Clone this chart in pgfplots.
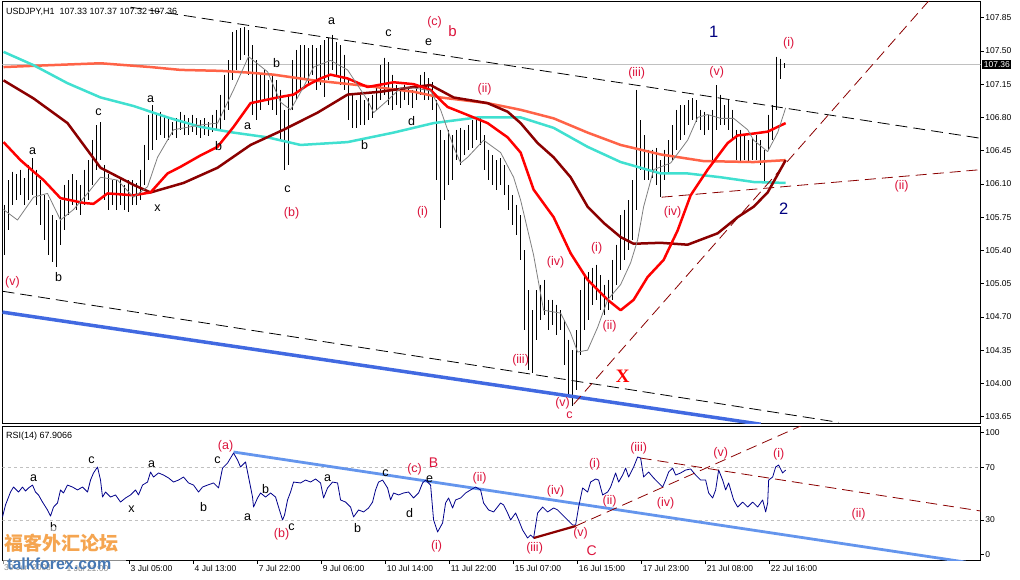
\documentclass[border=0pt]{standalone}
\usepackage{pgfplots}
\pgfplotsset{compat=1.18}
\usepackage{pgfplotstable}
\usepackage{fontspec}
\setmainfont{Liberation Sans}
\newfontfamily\serifx{Liberation Serif}
\newfontfamily\cjk{Noto Sans CJK SC}
\newcommand\fs[1]{\fontsize{#1}{#1}\selectfont}
\definecolor{wred}{RGB}{220,20,60}
\definecolor{navyw}{RGB}{0,0,128}
\definecolor{salmonma}{RGB}{255,99,71}
\definecolor{turq}{RGB}{64,224,208}
\definecolor{maroonma}{RGB}{139,0,0}
\definecolor{royal}{RGB}{65,105,225}
\definecolor{cornf}{RGB}{100,149,237}
\definecolor{rsiblue}{RGB}{0,0,139}
\definecolor{pricegray}{RGB}{192,192,192}
\definecolor{wmorange}{RGB}{245,165,80}
\definecolor{wmblue}{RGB}{70,120,180}

\pgfplotstableread{
x hi lo
4 105.88 105.35
8 106.14 105.61
12 106.23 105.88
16 106.20 105.93
20 106.25 105.98
24 106.16 105.88
28 106.30 105.93
32 106.37 105.98
36 106.25 105.88
40 106.14 105.67
44 105.98 105.51
48 105.93 105.35
52 105.77 105.28
56 105.72 105.23
60 105.93 105.46
64 106.09 105.61
68 106.14 105.77
72 106.20 105.88
76 106.14 105.83
80 106.09 105.77
84 106.25 105.88
88 106.35 105.93
92 106.56 106.09
96 106.72 106.25
100 106.75 106.35
104 106.30 105.93
108 106.20 105.83
112 106.14 105.88
116 106.14 105.83
120 106.16 105.88
124 106.09 105.83
128 106.14 105.80
132 106.14 105.88
136 106.11 105.88
140 106.25 105.93
144 106.51 106.09
148 106.83 106.35
152 106.93 106.46
156 106.83 106.56
160 106.86 106.61
164 106.83 106.58
168 106.79 106.56
172 106.75 106.61
176 106.79 106.58
180 106.86 106.67
184 106.83 106.61
188 106.79 106.61
192 106.83 106.65
196 106.79 106.61
200 106.77 106.58
204 106.79 106.61
208 106.75 106.60
212 106.83 106.65
216 106.88 106.67
220 107.04 106.67
224 107.25 106.77
228 107.40 106.88
232 107.70 107.19
236 107.72 107.30
240 107.74 107.40
244 107.75 107.46
248 107.72 107.25
252 107.56 106.83
256 107.40 106.77
260 107.25 106.88
264 107.30 106.98
268 107.19 106.93
272 107.25 106.88
276 107.19 106.83
280 107.09 106.56
284 106.88 106.25
288 107.04 106.30
292 107.40 106.88
296 107.51 106.98
300 107.56 107.09
304 107.56 107.19
308 107.53 107.14
312 107.56 107.25
316 107.53 107.09
320 107.56 107.14
324 107.61 107.01
328 107.64 107.19
332 107.67 107.30
336 107.59 107.25
340 107.56 107.14
344 107.46 107.09
348 107.19 106.77
352 107.04 106.69
356 106.98 106.69
360 107.04 106.72
364 106.98 106.72
368 107.00 106.77
372 107.04 106.79
376 107.14 106.88
380 107.35 106.98
384 107.43 107.04
388 107.38 106.93
392 107.25 106.88
396 107.14 106.93
400 107.11 106.90
404 107.14 106.98
408 107.11 106.93
412 107.09 106.90
416 107.14 106.98
420 107.25 107.04
424 107.28 106.98
428 107.21 106.98
432 107.17 106.88
436 106.98 106.14
440 106.67 105.64
444 106.56 105.93
448 106.67 106.09
452 106.61 106.14
456 106.67 106.35
460 106.69 106.30
464 106.67 106.40
468 106.72 106.46
472 106.77 106.48
476 106.80 106.56
480 106.79 106.51
484 106.61 106.25
488 106.46 106.14
492 106.40 106.09
496 106.35 106.04
500 106.37 106.09
504 106.30 105.98
508 106.09 105.83
512 105.98 105.67
516 105.88 105.56
520 105.77 105.30
524 105.40 104.56
528 104.98 104.14
532 104.77 104.11
536 104.98 104.46
540 105.04 104.67
544 105.09 104.72
548 104.88 104.56
552 104.88 104.61
556 104.83 104.51
560 104.77 104.56
564 104.67 104.19
568 104.46 103.88
572 104.35 103.76
576 104.56 103.93
580 104.98 104.30
584 105.14 104.56
588 105.17 104.67
592 105.22 104.83
596 105.25 104.88
600 105.14 104.77
604 105.04 104.72
608 105.09 104.77
612 105.30 104.88
616 105.46 105.04
620 105.77 105.19
624 105.83 105.30
628 105.93 105.40
632 106.14 105.51
636 107.09 105.83
640 106.77 106.25
644 106.61 106.14
648 106.46 106.14
652 106.46 106.16
656 106.48 106.09
660 106.35 105.96
664 106.46 106.14
668 106.56 106.20
672 106.72 106.35
676 106.88 106.46
680 106.93 106.56
684 106.93 106.61
688 106.98 106.72
692 107.00 106.77
696 106.98 106.75
700 106.88 106.67
704 106.86 106.61
708 106.83 106.67
712 106.88 106.35
716 107.14 106.67
720 107.04 106.72
724 106.93 106.72
728 106.98 106.67
732 106.88 106.56
736 106.67 106.35
740 106.67 106.33
744 106.61 106.35
748 106.56 106.32
752 106.58 106.35
756 106.61 106.35
760 106.56 106.30
764 106.46 106.11
768 106.83 106.46
772 106.93 106.56
776 107.44 106.88
780 107.42 107.20
784 107.37 107.32
}\bars

\tikzset{
  wl/.style={font=\fs{12.5}, inner sep=0pt},
  rl/.style={wl, text=wred},
}

\begin{document}
\begin{tikzpicture}[x=1pt,y=1pt]
\useasboundingbox (0,0) rectangle (1020,579);
\fill[white] (0,0) rectangle (1020,579);

% ---------------- main price panel ----------------
\begin{axis}[
  at={(2.5pt,155.7pt)}, anchor=south west,
  width=978.2pt, height=421.6pt, scale only axis,
  xmin=2, xmax=980, ymin=103.580, ymax=108.018,
  axis line style={line width=0.8pt},
  xtick=\empty,
  ytick={103.65,104.00,104.35,104.70,105.05,105.40,105.75,106.10,106.45,106.80,107.15,107.50,107.85},
  yticklabels={103.65,104.00,104.35,104.70,105.05,105.40,105.75,106.10,106.45,106.80,107.15,107.50,107.85},
  ytick pos=right, yticklabel pos=right,
  tick align=outside, major tick length=3pt,
  tick style={black, line width=0.6pt},
  yticklabel style={font=\fs{8.5}, anchor=west, inner sep=1.5pt},
  clip=true,
]
% current price line
\addplot[pricegray, line width=0.8pt] coordinates {(2,107.36) (980,107.36)};
% bars (high-low)
\addplot[only marks, mark=*, mark size=0pt, mark options={draw=none, fill=none},
  error bars/.cd, y dir=minus, y explicit, error mark=none,
  error bar style={black, line width=1.5pt}]
  table[x=x, y=hi, y error expr=\thisrow{hi}-\thisrow{lo}] {\bars};
% moving averages
\addplot[salmonma, line width=2.5pt, line join=round] coordinates {
(3,107.33)(50,107.35)(100,107.37)(150,107.33)(180,107.30)(220,107.29)(250,107.27)(273,107.25)(313,107.19)(367,107.13)(413,107.07)(440,107.01)(487,106.95)(520,106.88)(553,106.79)(587,106.64)(620,106.51)(660,106.41)(703,106.34)(753,106.33)(785,106.35)};
\addplot[turq, line width=2.5pt, line join=round] coordinates {
(3,107.49)(33,107.35)(67,107.16)(100,107.01)(133,106.92)(167,106.80)(200,106.70)(233,106.64)(267,106.59)(300,106.51)(347,106.54)(393,106.64)(433,106.74)(477,106.80)(520,106.80)(553,106.69)(587,106.49)(620,106.33)(660,106.21)(687,106.21)(720,106.17)(753,106.12)(785,106.11)};
\addplot[maroonma, line width=2.5pt, line join=round] coordinates {
(3,107.19)(33,107.00)(67,106.74)(100,106.27)(133,106.09)(150,106.01)(183,106.11)(217,106.27)(250,106.51)(283,106.67)(317,106.85)(347,107.04)(380,107.07)(413,107.12)(430,107.14)(453,107.01)(487,106.95)(507,106.86)(520,106.74)(537,106.53)(553,106.38)(570,106.17)(587,105.86)(603,105.69)(620,105.54)(633,105.47)(660,105.48)(687,105.46)(717,105.58)(737,105.75)(753,105.86)(767,106.01)(785,106.35)};
\addplot[red, line width=2.5pt, line join=round] coordinates {
(3,106.54)(20,106.35)(33,106.23)(43,106.14)(60,105.95)(83,105.90)(93,105.89)(107,106.00)(133,105.98)(150,106.01)(167,106.21)(180,106.28)(200,106.40)(217,106.49)(233,106.70)(250,106.95)(277,107.01)(293,107.04)(307,107.14)(320,107.21)(330,107.25)(347,107.21)(367,107.12)(393,107.17)(413,107.15)(430,107.09)(440,106.98)(447,106.91)(473,106.80)(487,106.74)(507,106.59)(520,106.43)(533,106.04)(553,105.75)(570,105.37)(587,105.09)(607,104.88)(620,104.77)(633,104.88)(647,105.12)(663,105.30)(677,105.61)(690,105.98)(707,106.25)(727,106.53)(737,106.61)(753,106.63)(767,106.65)(777,106.70)(785,106.74)};
\addplot[gray, line width=0.8pt, line join=round] coordinates {
(3,105.83)(17,105.72)(33,105.96)(47,106.00)(60,105.72)(73,105.83)(87,106.00)(100,106.17)(117,106.14)(133,105.96)(147,106.07)(157,106.38)(173,106.67)(200,106.72)(217,106.74)(233,107.09)(248,107.44)(267,107.28)(280,106.96)(290,106.88)(303,107.12)(313,107.33)(330,107.40)(347,107.30)(367,106.98)(373,106.85)(387,106.98)(400,107.11)(413,107.11)(430,107.08)(440,106.88)(453,106.49)(460,106.32)(467,106.38)(483,106.56)(500,106.43)(513,106.17)(520,105.93)(533,105.35)(543,104.77)(560,104.74)(570,104.53)(577,104.33)(587,104.35)(597,104.59)(607,104.88)(620,105.04)(630,105.27)(637,105.51)(643,105.86)(653,106.25)(670,106.32)(687,106.56)(697,106.80)(707,106.83)(720,106.79)(733,106.79)(747,106.67)(753,106.56)(767,106.44)(777,106.64)(785,106.90)};
% trend lines
\addplot[black, line width=0.8pt, dash pattern=on 12pt off 6pt] coordinates {(130,107.96) (980,106.58)};
\addplot[black, line width=0.8pt, dash pattern=on 12pt off 6pt] coordinates {(2,104.97) (838,103.59)};
\addplot[royal, line width=3.5pt] coordinates {(2,104.75) (760,103.57)};
\addplot[maroonma, line width=0.8pt, dash pattern=on 11pt off 6pt] coordinates {(573,103.78) (930,108.05)};
\addplot[maroonma, line width=0.8pt, dash pattern=on 11pt off 6pt] coordinates {(661,105.96) (980,106.25)};
% wave labels
\node[wl] at (axis cs:32,106.44) {a};
\node[wl] at (axis cs:58,105.12) {b};
\node[wl] at (axis cs:98,106.85) {c};
\node[wl] at (axis cs:157,105.84) {x};
\node[wl] at (axis cs:150,106.99) {a};
\node[wl] at (axis cs:218,106.50) {b};
\node[wl] at (axis cs:247,106.71) {a};
\node[wl] at (axis cs:276,107.37) {b};
\node[wl] at (axis cs:287,106.04) {c};
\node[wl] at (axis cs:331,107.81) {a};
\node[wl] at (axis cs:388,107.69) {c};
\node[wl] at (axis cs:428,107.59) {e};
\node[wl] at (axis cs:364,106.51) {b};
\node[wl] at (axis cs:411,106.76) {d};
\node[rl] at (axis cs:12,105.06) {(v)};
\node[rl] at (axis cs:291,105.79) {(b)};
\node[rl] at (axis cs:434,107.80) {(c)};
\node[rl, font=\fs{15}] at (axis cs:452,107.71) {b};
\node[rl] at (axis cs:484,107.10) {(ii)};
\node[rl] at (axis cs:422,105.80) {(i)};
\node[rl] at (axis cs:636,107.26) {(iii)};
\node[rl] at (axis cs:716,107.27) {(v)};
\node[rl] at (axis cs:788,107.58) {(i)};
\node[rl] at (axis cs:555,105.28) {(iv)};
\node[rl] at (axis cs:596,105.42) {(i)};
\node[rl] at (axis cs:609,104.60) {(ii)};
\node[rl] at (axis cs:520,104.24) {(iii)};
\node[rl] at (axis cs:562,103.79) {(v)};
\node[rl] at (axis cs:569,103.67) {c};
\node[rl] at (axis cs:672,105.80) {(iv)};
\node[rl] at (axis cs:901,106.08) {(ii)};
\node[inner sep=0pt, text=navyw, font=\fs{16.5}] at (axis cs:713,107.70) {1};
\node[inner sep=0pt, text=navyw, font=\fs{16.5}] at (axis cs:783,105.84) {2};
\node[inner sep=0pt, text=red, font=\serifx\bfseries\fs{19}] at (axis cs:622,104.07) {X};
\coordinate (pricebox) at (axis cs:980,107.36);
\end{axis}

% ---------------- RSI panel ----------------
\begin{axis}[
  at={(2.5pt,18.3pt)}, anchor=south west,
  width=978.2pt, height=134.7pt, scale only axis,
  xmin=2, xmax=980, ymin=-0.91, ymax=101.33,
  axis line style={line width=0.8pt},
  xtick={2.5,65,129,193,257,321,385,449,513,577,641,705,769},
  xticklabels={30 Jun 2008,1 Jul 21:00,3 Jul 05:00,4 Jul 13:00,7 Jul 22:00,9 Jul 06:00,10 Jul 14:00,11 Jul 22:00,15 Jul 07:00,16 Jul 15:00,17 Jul 23:00,21 Jul 08:00,22 Jul 16:00},
  xtick pos=bottom,
  xticklabel style={font=\fs{8.5}, anchor=north west, inner sep=1pt},
  ytick={3.6,30,70,96.2},
  yticklabels={0,30,70,100},
  ytick pos=right, yticklabel pos=right,
  tick align=outside, major tick length=3pt,
  tick style={black, line width=0.6pt},
  yticklabel style={font=\fs{8.5}, anchor=west, inner sep=1.5pt},
  clip=true,
]
\addplot[pricegray, line width=0.6pt, dash pattern=on 3pt off 3pt] coordinates {(2,30) (980,30)};
\addplot[pricegray, line width=0.6pt, dash pattern=on 3pt off 3pt] coordinates {(2,70) (980,70)};
\addplot[cornf, line width=2.8pt] coordinates {(233,81.6) (965,-2.0)};
\addplot[rsiblue, line width=0.8pt, line join=round] coordinates {
(2,32.3)(5,41.4)(10,51.2)(13,55.0)(18,51.2)(22,55.0)(25,52.0)(28,54.3)(32,56.5)(35,51.2)(38,49.0)(42,43.6)(47,37.6)(50,33.0)(53,39.8)(57,42.9)(60,52.8)(63,50.5)(67,56.5)(72,55.0)(77,52.8)(82,55.0)(87,51.2)(90,60.3)(93,65.7)(97,70.2)(100,60.3)(102,47.4)(105,51.2)(110,47.4)(115,49.0)(120,43.6)(125,46.7)(130,49.0)(135,52.8)(138,49.0)(142,56.5)(147,58.8)(150,66.4)(153,62.6)(158,65.7)(163,64.1)(168,61.9)(173,58.8)(178,60.3)(183,62.6)(188,58.1)(193,56.5)(198,51.2)(202,55.0)(207,56.5)(213,58.1)(218,54.3)(222,69.4)(227,73.2)(233,80.8)(237,75.5)(240,70.2)(245,74.0)(248,62.6)(252,47.4)(253,39.8)(257,46.7)(260,50.5)(265,47.4)(270,50.5)(275,47.4)(278,39.8)(282,30.0)(284,33.8)(287,45.2)(290,51.2)(293,58.8)(300,58.1)(305,60.3)(310,58.8)(315,61.1)(320,58.1)(323,46.7)(327,54.3)(332,58.8)(337,58.1)(340,45.2)(345,43.6)(350,39.8)(353,32.3)(358,37.6)(363,36.1)(368,39.1)(372,43.6)(375,52.8)(378,58.8)(382,60.3)(387,54.3)(390,45.2)(393,50.5)(398,49.0)(403,50.5)(408,51.2)(413,46.7)(418,50.5)(422,58.1)(425,60.3)(430,56.5)(433,30.0)(437,20.9)(442,27.7)(445,42.9)(448,46.7)(452,39.1)(455,45.2)(460,46.7)(465,50.5)(470,52.8)(475,55.0)(480,52.8)(483,42.9)(488,37.6)(493,36.1)(500,42.9)(503,41.4)(507,35.3)(510,30.0)(515,35.3)(518,30.0)(522,22.4)(527,16.3)(530,18.6)(533,16.3)(537,35.3)(542,39.8)(547,36.1)(550,37.6)(553,39.1)(557,37.6)(562,33.8)(567,30.0)(572,26.2)(575,26.2)(578,39.8)(582,54.3)(587,51.2)(590,58.8)(595,61.1)(598,60.3)(602,49.0)(607,51.2)(610,55.0)(615,65.7)(618,58.8)(622,64.1)(625,69.4)(628,62.6)(633,70.2)(637,77.8)(640,77.0)(643,62.6)(648,66.4)(653,61.9)(658,58.1)(662,55.0)(665,60.3)(668,66.4)(672,69.4)(675,64.1)(680,65.7)(685,67.9)(690,68.7)(695,64.1)(700,60.3)(705,60.3)(708,50.5)(712,46.7)(715,52.8)(718,67.9)(722,60.3)(725,52.8)(728,58.1)(733,45.2)(737,39.8)(742,43.6)(747,39.8)(752,43.6)(757,39.8)(762,45.2)(765,36.1)(767,42.9)(768,60.3)(772,62.6)(775,70.2)(778,71.7)(782,65.7)(785,67.9)};
\addplot[maroonma, line width=2.2pt] coordinates {(533,16.3) (575,25.4)};
\addplot[maroonma, line width=0.8pt, dash pattern=on 11pt off 6pt] coordinates {(575,25.4) (802,102)};
\addplot[maroonma, line width=0.8pt, dash pattern=on 11pt off 6pt] coordinates {(640,77.0) (980,36.8)};
% labels
\node[wl] at (axis cs:33,61.9) {a};
\node[wl] at (axis cs:53,24.7) {b};
\node[wl] at (axis cs:91,75.5) {c};
\node[wl] at (axis cs:131,38.3) {x};
\node[wl] at (axis cs:151,72.5) {a};
\node[wl] at (axis cs:203,39.8) {b};
\node[wl] at (axis cs:217,75.5) {c};
\node[rl] at (axis cs:225,86.1) {(a)};
\node[wl] at (axis cs:247,32.3) {a};
\node[wl] at (axis cs:265,53.5) {b};
\node[rl] at (axis cs:281,19.4) {(b)};
\node[wl] at (axis cs:291,24.7) {c};
\node[wl] at (axis cs:327,61.9) {a};
\node[wl] at (axis cs:357,23.9) {b};
\node[wl] at (axis cs:385,65.7) {c};
\node[rl] at (axis cs:414,68.7) {(c)};
\node[rl, font=\fs{14}] at (axis cs:433,73.2) {B};
\node[wl] at (axis cs:429,61.1) {e};
\node[wl] at (axis cs:409,35.3) {d};
\node[rl] at (axis cs:436,10.2) {(i)};
\node[rl] at (axis cs:479,61.9) {(ii)};
\node[rl] at (axis cs:534,8.7) {(iii)};
\node[rl] at (axis cs:555,52.0) {(iv)};
\node[rl] at (axis cs:580,20.1) {(v)};
\node[rl, font=\fs{14}] at (axis cs:591,6.5) {C};
\node[rl] at (axis cs:594,72.5) {(i)};
\node[rl] at (axis cs:609,44.4) {(ii)};
\node[rl] at (axis cs:638,84.6) {(iii)};
\node[rl] at (axis cs:665,42.9) {(iv)};
\node[rl] at (axis cs:720,80.8) {(v)};
\node[rl] at (axis cs:778,80.1) {(i)};
\node[rl] at (axis cs:858,34.5) {(ii)};
\end{axis}

% headers and price box
\node[anchor=west, inner sep=0pt, font=\fs{9}] at (6,567) {USDJPY,H1\ \ 107.33 107.37 107.32 107.36};
\node[anchor=west, inner sep=0pt, font=\fs{9}] at (6,143) {RSI(14) 67.9066};
\node[anchor=west, fill=black, text=white, font=\fs{8.5}, inner sep=1.5pt, xshift=1.5pt] at (pricebox) {107.36};

% watermark
\fill[white, fill opacity=0.55] (3,4) rectangle (126,52);
\node[anchor=west, inner sep=0pt, text=wmorange, font=\cjk\bfseries\fs{19}] at (4,36) {福客外汇论坛};
\node[anchor=west, inner sep=0pt, text=wmblue, font=\bfseries\fs{16}] at (7,15) {talkforex.com};
\end{tikzpicture}
\end{document}
